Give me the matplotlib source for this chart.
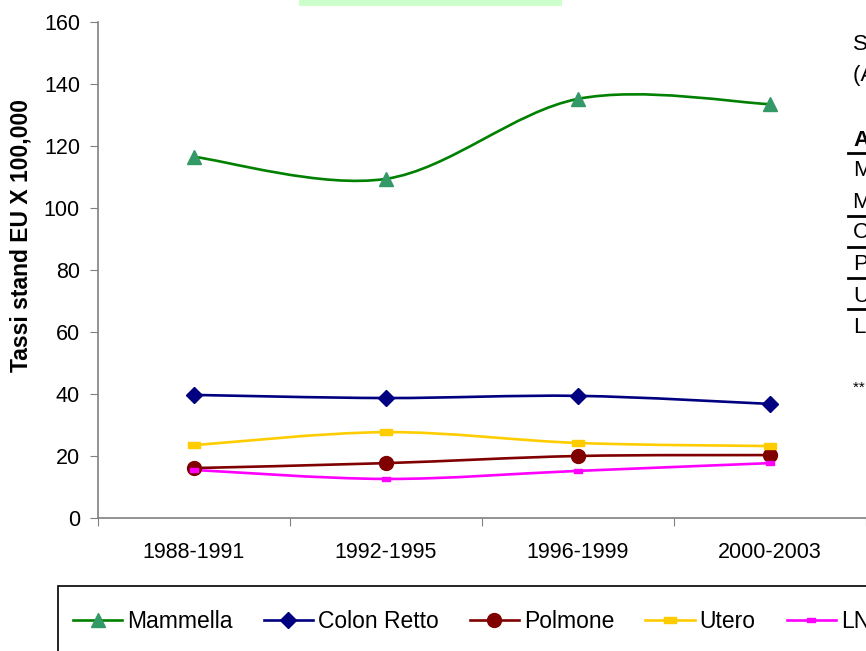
import matplotlib
matplotlib.use("Agg")
import matplotlib.pyplot as plt
import numpy as np
from matplotlib.path import Path
from matplotlib.patches import PathPatch, Rectangle
from matplotlib.lines import Line2D

plt.rcParams['font.family'] = ['Liberation Sans', 'DejaVu Sans']

# Data
periods = ["1988-1991", "1992-1995", "1996-1999", "2000-2003"]
mammella = [116.5, 109.4, 135.2, 133.5]
colon_retto = [39.7, 38.7, 39.4, 36.8]
polmone = [16.1, 17.7, 20.0, 20.3]
utero = [23.5, 27.7, 24.2, 23.2]
lnh = [15.5, 12.6, 15.2, 17.7]

series_names = ["Mammella", "Colon Retto", "Polmone", "Utero", "LNH"]

# rectangle marker (wider than tall), like the Excel dash marker
rect_marker = Path([(-1, -0.5), (1, -0.5), (1, 0.5), (-1, 0.5), (-1, -0.5)],
                   [Path.MOVETO, Path.LINETO, Path.LINETO, Path.LINETO, Path.CLOSEPOLY])

styles = [
    dict(line="#008000", mfc="#339966", marker="^", ms=10),
    dict(line="#000080", mfc="#000080", marker="D", ms=8),
    dict(line="#800000", mfc="#800000", marker="o", ms=10),
    dict(line="#FFCC00", mfc="#FFCC00", marker=rect_marker, ms=8),
    dict(line="#FF00FF", mfc="#FF00FF", marker=rect_marker, ms=6),
]


def smooth_path(x, y):
    """Excel-like smoothed line: cubic Bezier through the points."""
    pts = np.column_stack([x, y])
    ext = np.vstack([pts[0], pts, pts[-1]])
    verts = [pts[0]]
    codes = [Path.MOVETO]
    for i in range(len(pts) - 1):
        p0, p1, p2, p3 = ext[i], ext[i + 1], ext[i + 2], ext[i + 3]
        c1 = p1 + (p2 - p0) / 6.0
        c2 = p2 - (p3 - p1) / 6.0
        verts += [c1, c2, p2]
        codes += [Path.CURVE4] * 3
    return Path(verts, codes)


fig = plt.figure(figsize=(8.66, 6.51), dpi=100)
ax = fig.add_axes([98 / 866, 133 / 651, 768 / 866, 496 / 651])

xpos = np.arange(len(periods)) + 0.5
data = [mammella, colon_retto, polmone, utero, lnh]
handles = []
for name, vals, st in zip(series_names, data, styles):
    ax.add_patch(PathPatch(smooth_path(xpos, vals), fill=False,
                           edgecolor=st["line"], lw=1.9, zorder=2))
    ax.plot(xpos, vals, linestyle="none", marker=st["marker"], ms=st["ms"],
            mfc=st["mfc"], mec=st["mfc"], zorder=3)
    handles.append(Line2D([], [], color=st["line"], lw=1.9, marker=st["marker"],
                          ms=st["ms"], mfc=st["mfc"], mec=st["mfc"]))

ax.set_xlim(0, len(periods))
ax.set_ylim(0, 160)
ax.set_yticks(np.arange(0, 161, 20))
ax.set_xticks(np.arange(0, len(periods) + 1))
ax.set_xticklabels([])
ax.set_xticks(xpos, minor=True)
ax.set_xticklabels(periods, minor=True)
ax.tick_params(axis="x", which="minor", length=0, pad=17, labelsize=15.5)
ax.tick_params(axis="x", which="major", length=6, color="#808080", direction="out")
ax.tick_params(axis="y", length=6, color="#808080", labelsize=15.5, pad=7)
for s in ["top", "right"]:
    ax.spines[s].set_visible(False)
for s in ["left", "bottom"]:
    ax.spines[s].set_color("#808080")
    ax.spines[s].set_linewidth(1.2)

ax.set_ylabel("Tassi stand EU X 100,000", fontsize=16.5, fontweight="bold")
ax.yaxis.set_label_coords(-0.1005, 0.569)
ax.yaxis.label.set_verticalalignment("center")

# green title box cut at the top
fig.patches.append(Rectangle((299 / 866, 1 - 6 / 651), 263 / 866, 6 / 651,
                             transform=fig.transFigure, facecolor="#CCFFCC",
                             edgecolor="none"))

# legend frame (runs off the right/bottom edge)
fig.patches.append(Rectangle((58 / 866, 1 - 700 / 651), 900 / 866, 114 / 651,
                             transform=fig.transFigure, facecolor="white",
                             edgecolor="black", lw=1.2))
fig.legend(handles, series_names, loc="center left",
           bbox_to_anchor=(73 / 866, 1 - 622 / 651), ncol=5, frameon=False,
           fontsize=16.5, handlelength=2.15, handletextpad=0.22,
           columnspacing=1.35, borderaxespad=0, borderpad=0)

# side notes/table cut off at the right edge
side_text = [("Sedi tumorali", 44, "normal"), ("(AAPC 1988-2003)", 75, "normal"),
             ("AAPC", 140, "bold"), ("Mammella", 171, "normal"),
             ("Mammella 50-69", 203, "normal"), ("Colon Retto", 233, "normal"),
             ("Polmone", 264, "normal"), ("Utero", 296, "normal"),
             ("LNH", 327, "normal"), ("** p<0.05", 388, "normal")]
for txt, yy, wt in side_text:
    fig.text(853 / 866, 1 - yy / 651, txt, fontsize=16 if not txt.startswith("*") else 11,
             fontweight=wt, va="center", ha="left")
for yy in [153, 216, 247, 278, 309]:
    fig.add_artist(Line2D([848 / 866, 870 / 866], [1 - yy / 651] * 2,
                          transform=fig.transFigure, color="black", lw=2))

fig.savefig("out.png", dpi=100)
